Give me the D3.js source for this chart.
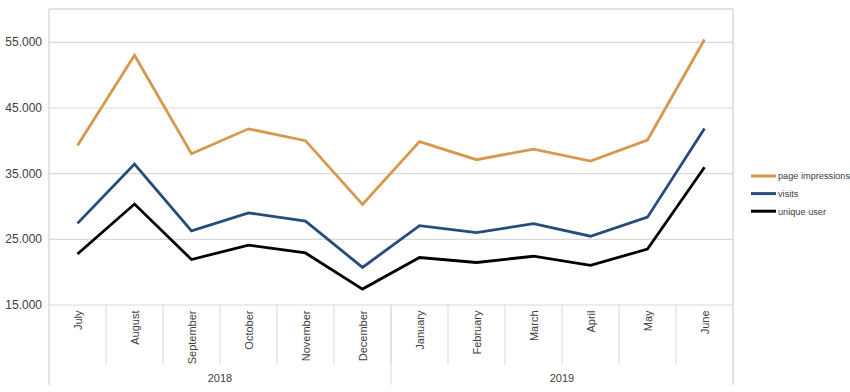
<!DOCTYPE html>
<html>
<head>
<meta charset="utf-8">
<script src="https://cdn.jsdelivr.net/npm/d3@7"></script>
<style>
  body { margin:0; background:#fff; }
  text { font-family: "Liberation Sans", Arial, sans-serif; fill:#404040; }
</style>
</head>
<body>
<div id="chart"></div>
<script>
// months in order, grouped by year
const months = ["July","August","September","October","November","December",
                "January","February","March","April","May","June"];
const years = ["2018","2019"];
const monthsPerYear = [6, 6];

const pageImpressions = [39200,52950,37950,41750,39950,30250,39800,37050,38650,36850,40050,55350];
const visits          = [27350,36400,26200,28950,27700,20650,27000,25950,27300,25400,28300,41800];
const uniqueUser      = [22700,30300,21850,24050,22850,17350,22150,21400,22350,20950,23450,35900];

const yTicks = [15000, 25000, 35000, 45000, 55000];

const series = [
  { name:"page impressions", values:pageImpressions, color:"#d6974e" },
  { name:"visits",           values:visits,          color:"#264b7d" },
  { name:"unique user",      values:uniqueUser,      color:"#000000" }
];

const W = 850, H = 392;
const m = { left:49, right:117, top:9, bottom:87.5 };
const iw = W - m.left - m.right, ih = H - m.top - m.bottom;

const svg = d3.select("#chart").append("svg").attr("width", W).attr("height", H);
const g = svg.append("g").attr("transform", `translate(${m.left},${m.top})`);

const x = d3.scaleBand().domain(months).range([0, iw]);
const y = d3.scaleLinear().domain([15000, 60000]).range([ih, 0]);

// gridlines + y labels
const gy = g.append("g").call(d3.axisLeft(y).tickValues(yTicks).tickSize(-iw).tickPadding(7)
  .tickFormat(d => d3.format(",")(d).replace(/,/g, ".")));
gy.select(".domain").remove();
gy.selectAll("line").attr("stroke", "#d9d9d9").attr("stroke-width", 1.2);
gy.selectAll("text").style("font-size", "12px").attr("fill", "#404040");

// plot frame (top, left, right) - left/right run down through the category area
const bottomFrame = H - 7 - m.top;
g.append("line").attr("x1",0).attr("x2",iw).attr("y1",0).attr("y2",0).attr("stroke","#c8c8c8");
g.append("line").attr("x1",0).attr("x2",0).attr("y1",0).attr("y2",bottomFrame).attr("stroke","#c8c8c8");
g.append("line").attr("x1",iw).attr("x2",iw).attr("y1",0).attr("y2",bottomFrame).attr("stroke","#c8c8c8");

// month separators under axis
const sepBottom = 365 - m.top;
g.selectAll(".sep").data(months.slice(1)).enter().append("line")
  .attr("x1", d => x(d)).attr("x2", d => x(d))
  .attr("y1", ih).attr("y2", sepBottom)
  .attr("stroke", "#d9d9d9");

// year separators + labels
let idx = 0;
years.forEach((yr, i) => {
  const first = months[idx], last = months[idx + monthsPerYear[i] - 1];
  const x0 = x(first), x1 = x(last) + x.bandwidth();
  if (i > 0) {
    g.append("line").attr("x1", x0).attr("x2", x0).attr("y1", ih).attr("y2", bottomFrame)
      .attr("stroke", "#d9d9d9");
  }
  g.append("text").attr("x", (x0 + x1) / 2).attr("y", 382 - m.top)
    .attr("text-anchor", "middle").style("font-size", "11px").text(yr);
  idx += monthsPerYear[i];
});

// month labels, rotated
g.selectAll(".mlab").data(months).enter().append("text")
  .attr("transform", d => `translate(${x(d) + x.bandwidth()/2 + 4},${ih + 6}) rotate(-90)`)
  .attr("text-anchor", "end")
  .style("font-size", "11px")
  .text(d => d);

// lines
const line = d3.line().x((d, i) => x(months[i]) + x.bandwidth()/2).y(d => y(d));
series.forEach(s => {
  g.append("path").datum(s.values)
    .attr("fill", "none").attr("stroke", s.color).attr("stroke-width", 2.8)
    .attr("stroke-linejoin", "miter").attr("d", line);
});

// legend
const lg = svg.append("g").attr("transform", "translate(751,176)");
series.forEach((s, i) => {
  lg.append("line").attr("x1", 0).attr("x2", 25).attr("y1", i*17.6).attr("y2", i*17.6)
    .attr("stroke", s.color).attr("stroke-width", 3);
  lg.append("text").attr("x", 27).attr("y", i*17.6 + 3.3)
    .style("font-size", "9.2px").text(s.name);
});
</script>
</body>
</html>
